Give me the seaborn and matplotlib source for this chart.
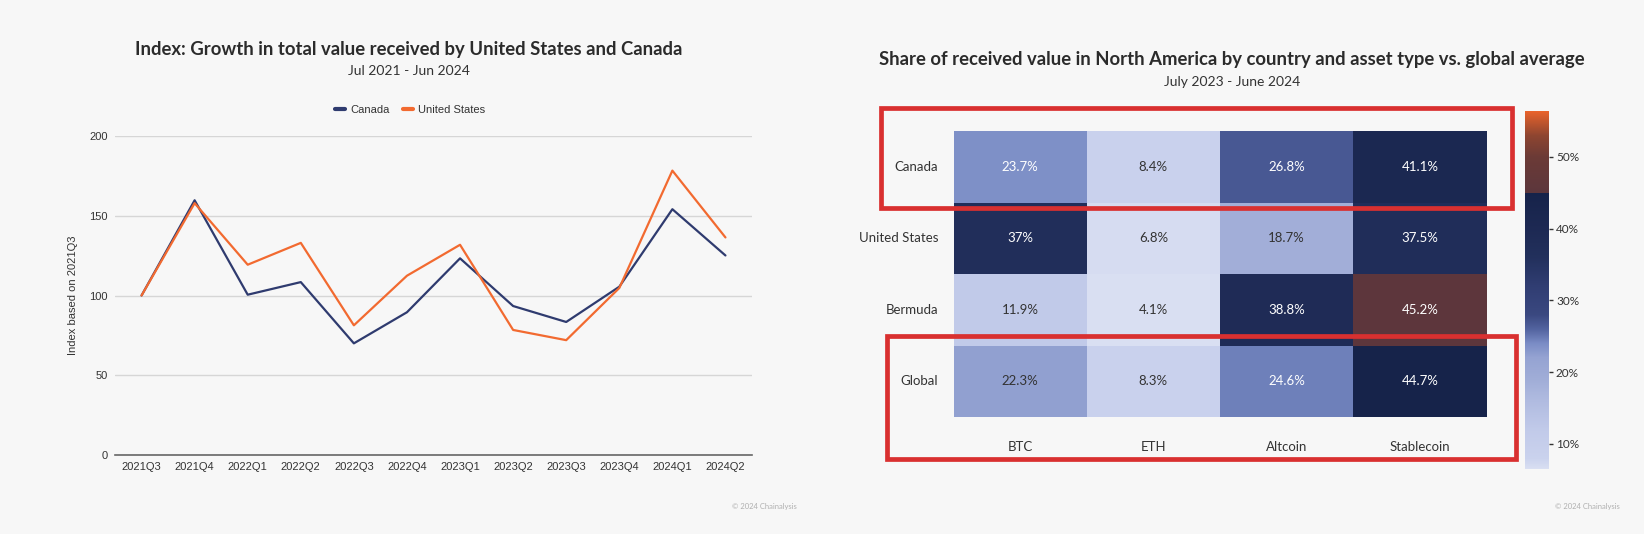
import numpy as np
import pandas as pd
import matplotlib
matplotlib.use("Agg")
import matplotlib.pyplot as plt
import seaborn as sns
from matplotlib.colors import LinearSegmentedColormap
from matplotlib.patches import Rectangle
from matplotlib.ticker import FuncFormatter
from matplotlib.lines import Line2D

# ---------------- data ----------------
quarters = ["2021Q3", "2021Q4", "2022Q1", "2022Q2", "2022Q3", "2022Q4",
            "2023Q1", "2023Q2", "2023Q3", "2023Q4", "2024Q1", "2024Q2"]
canada = [100, 159.7, 100.5, 108.4, 70.0, 89.5, 123.3, 93.4, 83.4, 105.5, 154.1, 125.1]
united_states = [100, 157.9, 119.3, 133.0, 81.3, 112.4, 131.8, 78.4, 72.0, 104.7, 178.3, 136.4]

countries = ["Canada", "United States", "Bermuda", "Global"]
assets = ["BTC", "ETH", "Altcoin", "Stablecoin"]
share_canada = [23.7, 8.4, 26.8, 41.1]
share_us = [37.0, 6.8, 18.7, 37.5]
share_bermuda = [11.9, 4.1, 38.8, 45.2]
share_global = [22.3, 8.3, 24.6, 44.7]
cbar_ticks = [10, 20, 30, 40, 50]

# ---------------- style ----------------
BG = "#f7f7f7"
sns.set_theme(style="white")
plt.rcParams["font.family"] = ["Lato", "DejaVu Sans"]
plt.rcParams["figure.facecolor"] = BG
plt.rcParams["axes.facecolor"] = BG

W, H = 1644, 534
fig = plt.figure(figsize=(W / 100, H / 100), dpi=100)

def fx(px):
    return px / W

def fy(py):
    return 1 - py / H

# ---------------- left line chart ----------------
axL = fig.add_axes([fx(115), fy(455), fx(752) - fx(115), fy(136) - fy(455)])
df = pd.DataFrame({
    "quarter": quarters * 2,
    "value": canada + united_states,
    "country": ["Canada"] * len(quarters) + ["United States"] * len(quarters),
})
sns.lineplot(data=df, x="quarter", y="value", hue="country", ax=axL,
             palette={"Canada": "#2f3b6f", "United States": "#f26a30"},
             linewidth=1.6, sort=False, legend=False)
axL.set_xlim(-0.5, len(quarters) - 0.5)
axL.set_ylim(0, 200)
axL.set_yticks([0, 50, 100, 150, 200])
axL.grid(axis="y", color="#d6d6d6", linewidth=1)
axL.set_axisbelow(True)
for s in ["top", "right", "left"]:
    axL.spines[s].set_visible(False)
axL.spines["bottom"].set_color("#666666")
axL.spines["bottom"].set_linewidth(1.2)
axL.tick_params(axis="both", length=0, labelsize=8, colors="#333333")
axL.tick_params(axis="y", pad=5)
axL.tick_params(axis="x", pad=5)
for lab in axL.get_xticklabels() + axL.get_yticklabels():
    lab.set_family(["Liberation Sans", "DejaVu Sans"])
axL.set_xlabel("")
axL.set_ylabel("Index based on 2021Q3", fontsize=8, color="#333333",
               family=["Liberation Sans", "DejaVu Sans"], labelpad=8)

handles = [Line2D([], [], color="#2f3b6f", lw=3),
           Line2D([], [], color="#f26a30", lw=3)]
leg = fig.legend(handles, ["Canada", "United States"], loc="center",
                 bbox_to_anchor=(fx(410), fy(110)), ncol=2, frameon=False,
                 handlelength=0.9, handletextpad=0.5, columnspacing=1.2,
                 prop={"family": ["Liberation Sans", "DejaVu Sans"], "size": 8})
for t in leg.get_texts():
    t.set_color("#333333")

fig.text(fx(408.5), fy(49), "Index: Growth in total value received by United States and Canada",
         ha="center", va="center", fontsize=13.3, weight="bold", color="#2b2b2b")
fig.text(fx(408.5), fy(71.5), "Jul 2021 - Jun 2024", ha="center", va="center",
         fontsize=10, weight="normal", color="#333333")

# ---------------- right heatmap ----------------
axR = fig.add_axes([fx(953.5), fy(417), fx(1486.5) - fx(953.5), fy(131) - fy(417)])
cax = fig.add_axes([fx(1525), fy(469), fx(1549) - fx(1525), fy(111) - fy(469)])

mat = pd.DataFrame([share_canada, share_us, share_bermuda, share_global],
                   index=countries, columns=assets)
vmin, vmax = 6.5, 56.4
anchors = [(6.5, "#d9dff2"), (8, "#cad2ed"), (12, "#c1cae9"), (16, "#b0bbe0"),
           (19, "#a0add7"), (22, "#95a3d2"), (24, "#7a8cc5"), (26, "#52639f"),
           (28, "#3a4880"), (32, "#303d72"), (36, "#22305c"), (40, "#1d2953"),
           (44.95, "#16234a"), (45.0, "#5c363c"), (50, "#6b3a36"),
           (53, "#8e4530"), (56.4, "#ea632b")]
cmap = LinearSegmentedColormap.from_list(
    "chain", [((v - vmin) / (vmax - vmin), c) for v, c in anchors], N=2048)

labels = mat.map(lambda v: f"{v:g}%")
sns.heatmap(mat, ax=axR, cmap=cmap, vmin=vmin, vmax=vmax, annot=labels, fmt="",
            annot_kws={"fontsize": 9.5}, cbar_ax=cax, linewidths=0,
            cbar_kws={"ticks": cbar_ticks,
                      "format": FuncFormatter(lambda x, p: f"{x:.0f}%")})
for t, v in zip(axR.texts, mat.values.ravel()):
    t.set_color("white" if v > 23 else "#333333")

axR.tick_params(axis="x", length=0, pad=17, labelsize=9.5, colors="#333333")
axR.tick_params(axis="y", length=0, pad=11, labelsize=9.5, colors="#333333")
axR.set_yticklabels(countries, rotation=0)
axR.set_xticklabels(assets, rotation=0)
axR.set_xlabel("")
axR.set_ylabel("")

cb = axR.collections[0].colorbar
if cb is not None:
    cb.outline.set_visible(False)
cax.tick_params(length=3, width=1, color="#333333", labelsize=8.5,
                labelcolor="#333333", pad=2)

fig.text(fx(1232), fy(60),
         "Share of received value in North America by country and asset type vs. global average",
         ha="center", va="center", fontsize=13.3, weight="bold", color="#2b2b2b")
fig.text(fx(1232), fy(81.7), "July 2023 - June 2024", ha="center", va="center",
         fontsize=10, weight="normal", color="#333333")

# highlight boxes
for (x0, y0, x1, y1) in [(881, 108, 1512, 208), (887, 336, 1516, 459)]:
    fig.patches.append(Rectangle((fx(x0), fy(y1)), fx(x1) - fx(x0), fy(y0) - fy(y1),
                                 transform=fig.transFigure, fill=False,
                                 edgecolor="#d93030", linewidth=3.4, zorder=10))

# footers
for cx in [764, 1587.5]:
    fig.text(fx(cx), fy(506), "© 2024 Chainalysis", ha="center", va="center",
             fontsize=5.5, color="#b0b0b0")

fig.savefig("out.png", dpi=100, facecolor=BG)
